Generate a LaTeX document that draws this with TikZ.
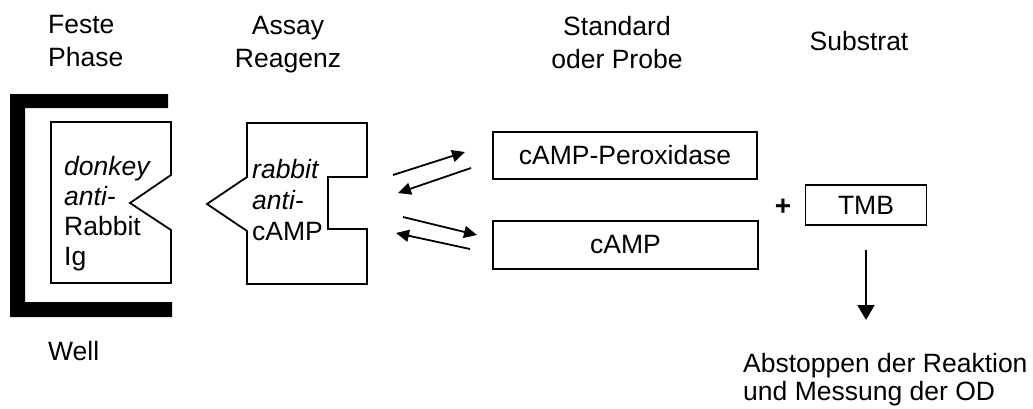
\documentclass[tikz,border=0pt]{standalone}
\usepackage{fontspec}
\setmainfont{Liberation Sans}
\usetikzlibrary{arrows.meta}
\begin{document}
\begin{tikzpicture}[x=1pt,y=-1pt,
  txt/.style={inner sep=0pt, font=\fontsize{26.5}{33}\selectfont},
  box/.style={draw, line width=1.8pt, inner sep=0pt, font=\fontsize{26.5}{30}\selectfont},
  outline/.style={draw, line width=1.8pt, line join=miter},
  arr/.style={line width=1.8pt, -{Triangle[length=13pt,width=12pt]}},
  downarr/.style={line width=1.8pt, -{Triangle[length=15pt,width=17pt]}}]
\useasboundingbox (0,0) rectangle (1033,408);

% headers (base anchor = baseline of last line)
\node[txt, anchor=base west, align=left] (feste) at (48,66) {Feste\\Phase};
\node[txt, anchor=base, align=center] (assay) at (288,67) {Assay\\Reagenz};
\node[txt, anchor=base, align=center] (standard) at (617,68) {Standard\\oder Probe};
\node[txt, anchor=base] (substrat) at (859,50) {Substrat};

% well bracket
\fill (10,94) -- (168,94) -- (168,108) -- (25,108) -- (25,302) -- (172,302)
  -- (172,317) -- (10,317) -- cycle;
\node[txt, anchor=base west] (well) at (48,360) {Well};

% donkey antibody
\path[outline] (51,122) -- (171,122) -- (171,175) -- (130,203) -- (171,230)
  -- (171,283) -- (51,283) -- cycle;
\node[txt, anchor=base west, align=left, font=\fontsize{26.5}{30}\selectfont] (donkey) at (64,265)
  {\textit{donkey}\\\textit{anti-}\\Rabbit\\Ig};

% rabbit antibody
\path[outline] (247,123) -- (367,123) -- (367,177) -- (328,177) -- (328,229)
  -- (367,229) -- (367,284) -- (247,284) -- (247,231) -- (207,204) -- (247,177) -- cycle;
\node[txt, anchor=base west, align=left, font=\fontsize{26.5}{31}\selectfont] (rabbit) at (252,240)
  {\textit{rabbit}\\\textit{anti-}\\cAMP};

% equilibrium arrows
\coordinate (a1s) at (393,175); \coordinate (a1e) at (465,152);
\coordinate (a2s) at (471,168); \coordinate (a2e) at (398,193);
\coordinate (a3s) at (403,217); \coordinate (a3e) at (477,235);
\coordinate (a4s) at (470,249); \coordinate (a4e) at (396,233);
\draw[arr] (a1s) -- (a1e);
\draw[arr] (a2s) -- (a2e);
\draw[arr] (a3s) -- (a3e);
\draw[arr] (a4s) -- (a4e);

% boxes
\node[box, minimum width=264pt, minimum height=47pt] (perox) at (625,155.5) {cAMP-Peroxidase};
\node[box, minimum width=265pt, minimum height=48pt] (camp) at (625.5,245) {cAMP};
\node[txt, font=\fontsize{28}{30}\selectfont\bfseries] (plus) at (783,207) {+};
\node[box, minimum width=121pt, minimum height=40pt] (tmb) at (866,205) {TMB};

% stop arrow
\coordinate (stop) at (866,320);
\draw[downarr, shorten <=24pt] (tmb.south) -- (stop);
\node[txt, anchor=base west, align=left, font=\fontsize{26.5}{28}\selectfont] (abst) at (743,400)
  {Abstoppen der Reaktion\\und Messung der OD};
\end{tikzpicture}
\end{document}
